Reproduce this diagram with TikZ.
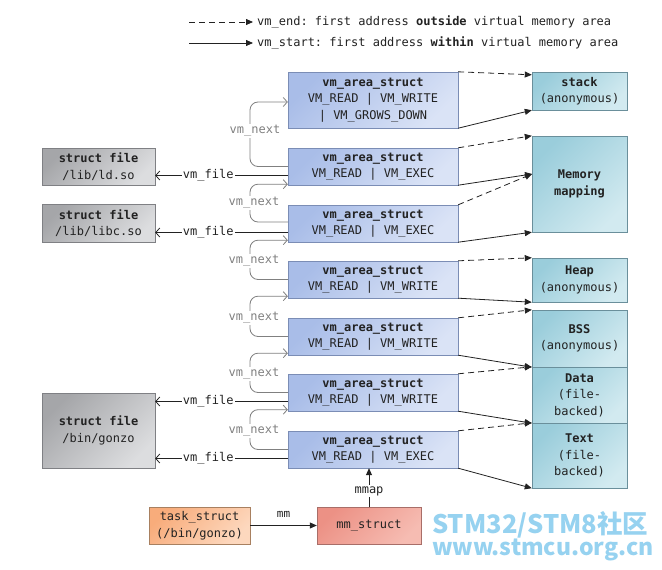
\documentclass[tikz,border=0pt]{standalone}
\usepackage{fontspec}
\setmonofont{DejaVu Sans Mono}
\newfontfamily\cjk{Noto Sans CJK SC}
\usetikzlibrary{arrows.meta}
\definecolor{txt}{HTML}{222222}
\definecolor{vmaA}{HTML}{A9BDE8}
\definecolor{vmaC}{HTML}{DAE3F6}
\definecolor{vmaB}{HTML}{7B8DB5}
\definecolor{regA}{HTML}{9ACDDB}
\definecolor{regC}{HTML}{D2EAF0}
\definecolor{regB}{HTML}{6A8F9B}
\definecolor{filA}{HTML}{A5A6A9}
\definecolor{filC}{HTML}{DCDDDF}
\definecolor{filB}{HTML}{7F8084}
\definecolor{tskA}{HTML}{F8AC7B}
\definecolor{tskC}{HTML}{FDD8BE}
\definecolor{tskB}{HTML}{A88060}
\definecolor{mmA}{HTML}{EC9185}
\definecolor{mmC}{HTML}{F6BCB2}
\definecolor{mmB}{HTML}{A86E68}
\definecolor{nxt}{HTML}{808080}
\definecolor{wmc}{RGB}{150,210,240}
\begin{document}
\begin{tikzpicture}[x=1pt,y=-1pt,
  every node/.style={font=\fontsize{12}{16.5}\selectfont\ttfamily, text=txt},
  vma/.style={draw=vmaB, top color=vmaA, bottom color=vmaC, shading angle=45, minimum width=170pt, inner sep=0pt, align=center},
  region/.style={draw=regB, top color=regA, bottom color=regC, shading angle=45, minimum width=95pt, inner sep=0pt, align=center},
  filebox/.style={draw=filB, top color=filA, bottom color=filC, shading angle=45, minimum width=113pt, inner sep=0pt, align=center},
  taskbox/.style={draw=tskB, top color=tskA, bottom color=tskC, shading angle=45, minimum width=101pt, minimum height=37pt, inner sep=0pt, align=center},
  mmbox/.style={draw=mmB, top color=mmA, bottom color=mmC, shading angle=45, minimum width=104pt, minimum height=37pt, inner sep=0pt, align=center},
  endarr/.style={draw=txt, line width=0.8pt, dash pattern=on 6pt off 4pt, -{Triangle[length=7pt,width=6pt]}},
  startarr/.style={draw=txt, line width=0.8pt, -{Triangle[length=7pt,width=6pt]}},
  filearr/.style={draw=txt, line width=0.8pt, -{Straight Barb[length=4pt,width=9pt]}},
  nextarr/.style={draw=nxt, line width=0.8pt, rounded corners=8pt, -{Straight Barb[length=4pt,width=9pt]}},
  nextlbl/.style={fill=white, text=nxt, inner sep=1pt},
  filelbl/.style={fill=white, inner sep=1pt},
  wm/.style={text=wmc, inner sep=0pt, anchor=base west}
]
\useasboundingbox[fill=white] (0,0) rectangle (662,570);

% legend
\coordinate (la1) at (189,22);
\coordinate (la2) at (189,43);
\node[anchor=west, inner sep=0pt] (lt1) at (257,22) {vm\_end: first address \textbf{outside} virtual memory area};
\node[anchor=west, inner sep=0pt] (lt2) at (257,43) {vm\_start: first address \textbf{within} virtual memory area};
\draw[endarr] (la1) -- ([xshift=-4pt]lt1.west);
\draw[startarr] (la2) -- ([xshift=-4pt]lt2.west);

% vm_area_struct boxes
\node[vma, minimum height=56pt] (v1) at (373,100) {\textbf{vm\_area\_struct}\\VM\_READ | VM\_WRITE\\| VM\_GROWS\_DOWN};
\node[vma, minimum height=37pt] (v2) at (373,166.5) {\textbf{vm\_area\_struct}\\VM\_READ | VM\_EXEC};
\node[vma, minimum height=37pt] (v3) at (373,223.5) {\textbf{vm\_area\_struct}\\VM\_READ | VM\_EXEC};
\node[vma, minimum height=37pt] (v4) at (373,279.5) {\textbf{vm\_area\_struct}\\VM\_READ | VM\_WRITE};
\node[vma, minimum height=37pt] (v5) at (373,336.5) {\textbf{vm\_area\_struct}\\VM\_READ | VM\_WRITE};
\node[vma, minimum height=37pt] (v6) at (373,392.5) {\textbf{vm\_area\_struct}\\VM\_READ | VM\_WRITE};
\node[vma, minimum height=37pt] (v7) at (373,449.5) {\textbf{vm\_area\_struct}\\VM\_READ | VM\_EXEC};

% regions
\node[region, minimum height=38pt] (stack) at (579.5,91) {\textbf{stack}\\(anonymous)};
\node[region, minimum height=96pt] (mmr) at (579.5,184) {\textbf{Memory}\\\textbf{mapping}};
\node[region, minimum height=44pt] (heap) at (579.5,280) {\textbf{Heap}\\(anonymous)};
\node[region, minimum height=57pt] (bss) at (579.5,338.5) {\textbf{BSS}\\(anonymous)};
\node[region, minimum height=56pt] (data) at (579.5,395) {\textbf{Data}\\(file-\\backed)};
\node[region, minimum height=65pt] (text) at (579.5,455.5) {\textbf{Text}\\(file-\\backed)};
\coordinate (mmid) at (532,174);

% struct file boxes
\node[filebox, minimum height=37pt] (ld) at (98.5,166.5) {\textbf{struct file}\\/lib/ld.so};
\node[filebox, minimum height=38pt] (libc) at (98.5,223) {\textbf{struct file}\\/lib/libc.so};
\node[filebox, minimum height=75pt] (gonzo) at (98.5,430.5) {\textbf{struct file}\\/bin/gonzo};

% task / mm
\node[taskbox] (task) at (199.5,525.5) {task\_struct\\(/bin/gonzo)};
\node[mmbox] (mm) at (369,525.5) {mm\_struct};

% vm_end / vm_start arrows
\draw[endarr] (v1.north east) -- ([yshift=-3pt]stack.north west);
\draw[startarr] (v1.south east) -- (stack.south west);
\draw[endarr] (v2.north east) -- (mmr.north west);
\draw[startarr] (v2.south east) -- (mmid);
\draw[endarr] (v3.north east) -- (mmid);
\draw[startarr] (v3.south east) -- (mmr.south west);
\draw[endarr] (v4.north east) -- (heap.north west);
\draw[startarr] (v4.south east) -- (heap.south west);
\draw[endarr] (v5.north east) -- (bss.north west);
\draw[startarr] (v5.south east) -- (bss.south west);
\draw[endarr] (v6.north east) -- (data.north west);
\draw[startarr] (v6.south east) -- (data.south west);
\draw[endarr] (v7.north east) -- (text.north west);
\draw[startarr] (v7.south east) -- (text.south west);

% vm_next
\draw[nextarr] (v2.west) -| (250,131) |- ([yshift=-2pt]v1.west);
\draw[nextarr] ([yshift=1.5pt]v3.west) -| (250,203) |- ([yshift=1pt]v2.south west);
\draw[nextarr] (v4.west) -| (250,261) |- ([yshift=2pt]v3.south west);
\draw[nextarr] (v5.west) -| (250,318) |- ([yshift=2pt]v4.south west);
\draw[nextarr] (v6.west) -| (250,374) |- ([yshift=2pt]v5.south west);
\draw[nextarr] (v7.west) -| (250,431) |- ([yshift=1.5pt]v6.south west);
\node[nextlbl] (n1) at (255,131) {vm\_next};
\node[nextlbl] (n2) at (254,203) {vm\_next};
\node[nextlbl] (n3) at (254,261) {vm\_next};
\node[nextlbl] (n4) at (254,318) {vm\_next};
\node[nextlbl] (n5) at (254,374) {vm\_next};
\node[nextlbl] (n6) at (254,431) {vm\_next};

% vm_file
\draw[filearr] ([yshift=-9pt]v2.west) coordinate (a1) -- (a1 -| ld.east) node[filelbl, pos=0.6] (f1) {vm\_file};
\draw[filearr] ([yshift=-9pt]v3.west) coordinate (a2) -- (a2 -| libc.east) node[filelbl, pos=0.6] (f2) {vm\_file};
\draw[filearr] ([yshift=-9pt]v6.west) coordinate (a3) -- (a3 -| gonzo.east) node[filelbl, pos=0.6] (f3) {vm\_file};
\draw[filearr] ([yshift=-9pt]v7.west) coordinate (a4) -- (a4 -| gonzo.east) node[filelbl, pos=0.6] (f4) {vm\_file};

% mm / mmap
\draw[startarr] (task.east) -- (mm.west) node[midway, above=4pt, font=\fontsize{11}{13}\selectfont\ttfamily] (mml) {mm};
\draw[startarr] (mm.north) -- (mm.north |- v7.south) node[filelbl, pos=0.41] (mmapl) {mmap};

% watermark
\node[wm, font=\cjk\bfseries\fontsize{25.5}{26}\selectfont] (wm1) at (432,533) {STM32/STM8社区};
\node[wm, font=\cjk\bfseries\fontsize{23}{24}\selectfont] (wm2) at (432,555) {www.stmcu.org.cn};
\end{tikzpicture}
\end{document}
